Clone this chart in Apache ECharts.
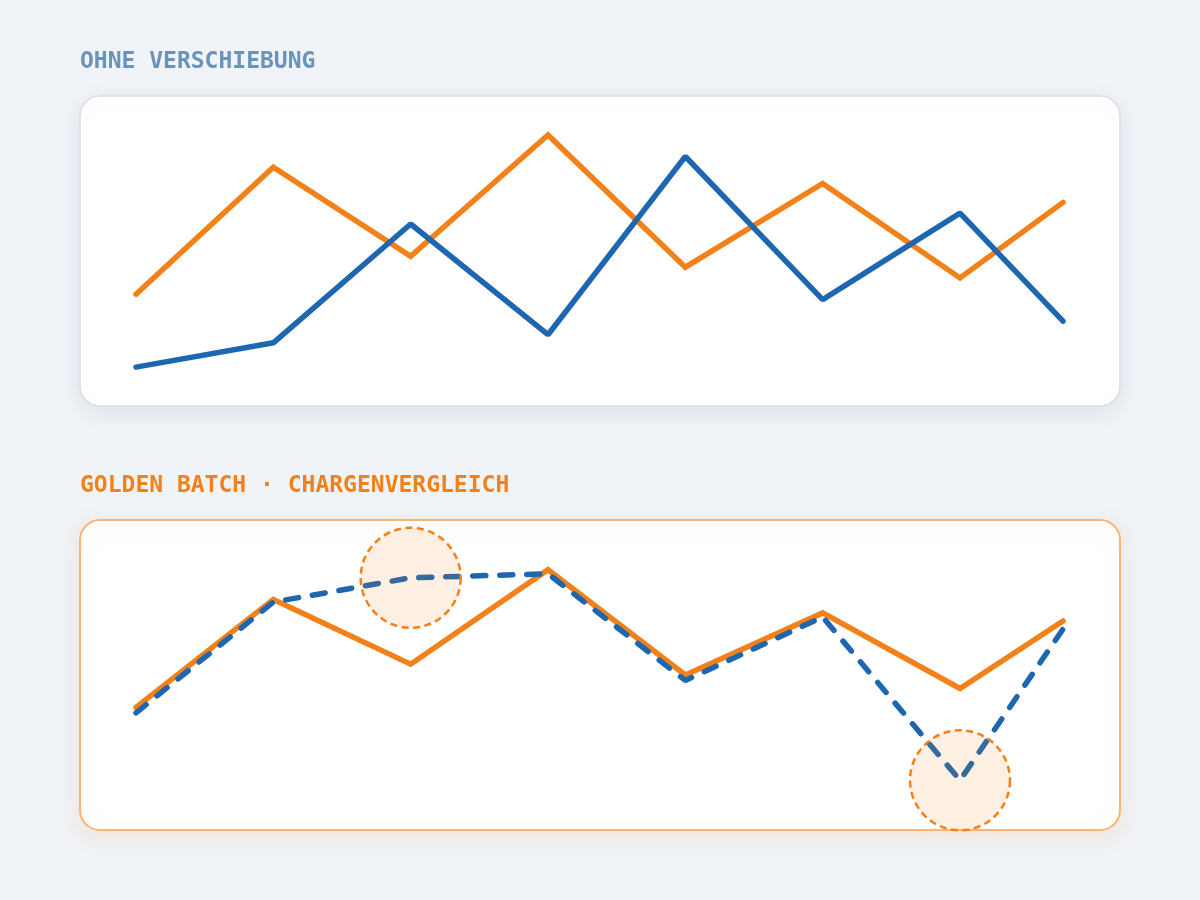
<!DOCTYPE html>
<html>
<head>
<meta charset="utf-8">
<script src="https://cdn.jsdelivr.net/npm/echarts@6/dist/echarts.min.js"></script>
<style>
html,body{margin:0;padding:0;background:#f0f3f7;}
#c{width:1200px;height:900px;}
</style>
</head>
<body>
<div id="c"></div>
<script>
// x positions (time steps)
const xValues = [0, 1, 2, 3, 4, 5, 6, 6.75];
// Top panel: ohne Verschiebung
const topOrange = [34, 81, 48, 93, 44, 75, 40, 68];
const topBlue   = [7, 16, 60, 19, 85, 32, 64, 24];
// Bottom panel: golden batch vs. charge
const botOrange = [38, 78, 54, 89, 50, 73, 45, 70];
const botBlue   = [36, 77, 86, 87.5, 48, 71.5, 11, 67];
// deviations highlighted
const highlightIdx = [2, 6];
const titleTop = 'OHNE VERSCHIEBUNG';
const titleBottom = 'GOLDEN BATCH · CHARGENVERGLEICH';

const ORANGE = '#f28119';
const BLUE = '#1d66b0';

const pairs = (xs, ys) => xs.map((x, i) => [x, ys[i]]);

const chart = echarts.init(document.getElementById('c'), null, {renderer: 'canvas'});

const axisX = (gi) => ({gridIndex: gi, type: 'value', min: 0, max: 6.75, show: false});
const axisY = (gi) => ({gridIndex: gi, type: 'value', min: 0, max: 100, show: false});

const lineStyleSolid = {color: ORANGE, width: 5.5, cap: 'round', join: 'miter'};

chart.setOption({
  backgroundColor: '#f0f3f7',
  animation: false,
  graphic: [
    {type: 'rect', z: -10, shape: {x: 80, y: 96, width: 1040, height: 310, r: 20},
     style: {fill: '#ffffff', stroke: '#d7dfe8', lineWidth: 1.5,
       shadowBlur: 24, shadowColor: 'rgba(40,70,110,0.09)', shadowOffsetY: 6}},
    {type: 'rect', z: -10, shape: {x: 80, y: 520, width: 1040, height: 310, r: 20},
     style: {fill: '#ffffff', stroke: '#f5b577', lineWidth: 2,
       shadowBlur: 24, shadowColor: 'rgba(242,129,25,0.13)', shadowOffsetY: 6}},
    {type: 'text', z: 10, x: 80, y: 51,
     style: {text: titleTop, fill: '#6a93b9', font: 'bold 23px "DejaVu Sans Mono"'}},
    {type: 'text', z: 10, x: 80, y: 475,
     style: {text: titleBottom, fill: ORANGE, font: 'bold 23px "DejaVu Sans Mono"'}}
  ],
  grid: [
    {left: 136, right: 137, top: 116, height: 270},
    {left: 136, right: 137, top: 540, height: 270}
  ],
  xAxis: [axisX(0), axisX(1)],
  yAxis: [axisY(0), axisY(1)],
  series: [
    {type: 'line', xAxisIndex: 0, yAxisIndex: 0, data: pairs(xValues, topOrange),
     symbol: 'none', lineStyle: lineStyleSolid, z: 3},
    {type: 'line', xAxisIndex: 0, yAxisIndex: 0, data: pairs(xValues, topBlue),
     symbol: 'none', lineStyle: {color: BLUE, width: 5.5, cap: 'round'}, z: 3},
    {type: 'line', xAxisIndex: 1, yAxisIndex: 1, data: pairs(xValues, botOrange),
     symbol: 'none', lineStyle: lineStyleSolid, z: 3},
    {type: 'line', xAxisIndex: 1, yAxisIndex: 1, data: pairs(xValues, botBlue),
     symbol: 'none', lineStyle: {color: BLUE, width: 5.5, cap: 'round', type: [13, 14]}, z: 4},
    {type: 'scatter', xAxisIndex: 1, yAxisIndex: 1,
     data: highlightIdx.map(i => [xValues[i], botBlue[i]]),
     symbol: 'circle', symbolSize: 100, z: 6, silent: true,
     itemStyle: {color: 'rgba(242,129,25,0.12)', borderColor: ORANGE, borderWidth: 2.5,
       borderType: [7, 4.5], opacity: 1}}
  ]
});
</script>
</body>
</html>
